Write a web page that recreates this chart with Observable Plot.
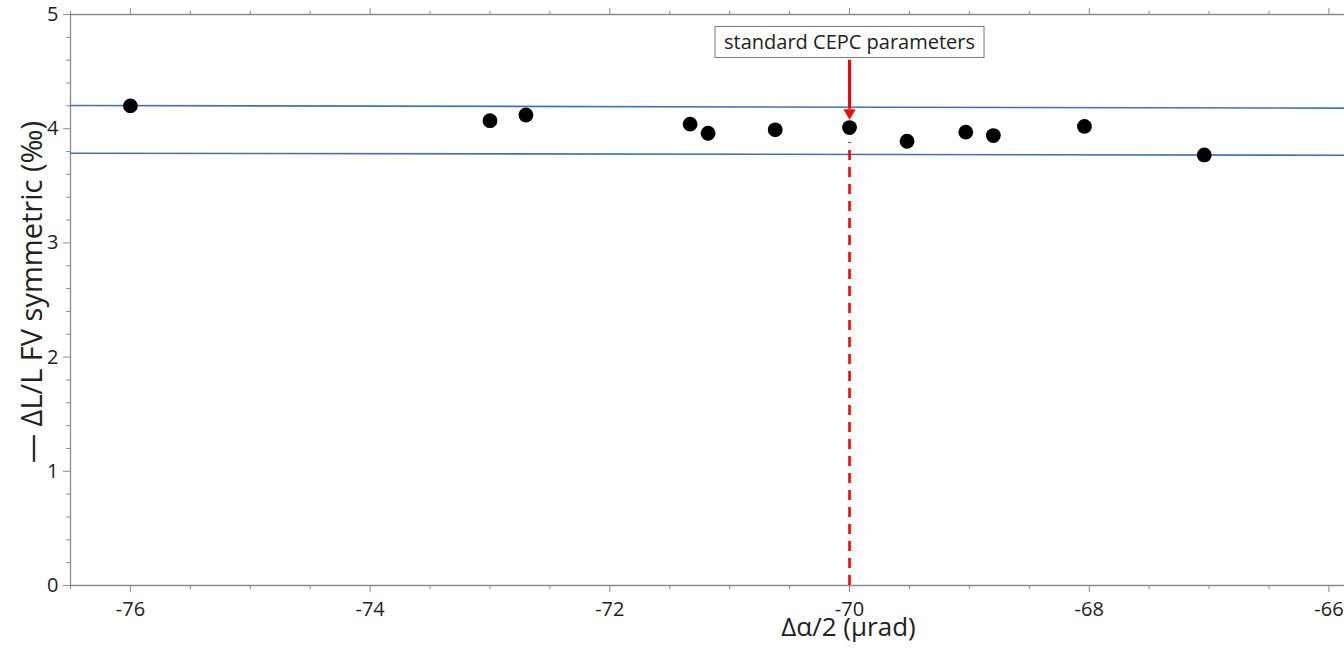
<!DOCTYPE html>
<html><head><meta charset="utf-8">
<script src="https://cdn.jsdelivr.net/npm/d3@7"></script>
<script src="https://cdn.jsdelivr.net/npm/@observablehq/plot@0.6"></script>
<style>body{margin:0;background:#fff;overflow:hidden}</style>
</head><body><div id="chart"></div>
<script>
// data
const crossingAngle = [-76.0, -73.0, -72.7, -71.33, -71.18, -70.62, -70.0, -69.52, -69.03, -68.80, -68.04, -67.04];
const lumiShift     = [4.20, 4.07, 4.12, 4.04, 3.96, 3.99, 4.01, 3.89, 3.97, 3.94, 4.02, 3.77];
const bandX     = [-76.5, -65.87];
const bandUpper = [4.203, 4.180];
const bandLower = [3.785, 3.768];
const standardX = [-70];
const standardLabel = ["standard CEPC parameters"];
const labelY = [4.75];
const arrowFrom = [4.60], arrowTo = [4.14];
const dashedTop = [3.88];
const xMajorTicks = [-76, -74, -72, -70, -68, -66];
const xMinorTicks = [-76.5, -75.5, -75, -74.5, -73.5, -73, -72.5, -71.5, -71, -70.5, -69.5, -69, -68.5, -67.5, -67, -66.5];
const yMajorTicks = [0, 1, 2, 3, 4, 5];
const yMinorTicks = [0.2,0.4,0.6,0.8,1.2,1.4,1.6,1.8,2.2,2.4,2.6,2.8,3.2,3.4,3.6,3.8,4.2,4.4,4.6,4.8];
const xDomain = [-76.5, -65.87];
const yDomain = [0, 5];
const xTitle = "Δα/2 (μrad)";
const yTitle = "— ΔL/L FV symmetric (‰)";

const points = crossingAngle.map((x, i) => ({x, y: lumiShift[i]}));
const band = [
  ...bandX.map((x, i) => ({x, y: bandUpper[i], s: "upper"})),
  ...bandX.map((x, i) => ({x, y: bandLower[i], s: "lower"}))
];
const axisGray = "#8c8c8c";
const blank = () => "";
const plain = d => String(d);

const chart = Plot.plot({
  width: 1344, height: 650,
  marginLeft: 70, marginRight: 0, marginTop: 14, marginBottom: 65,
  style: {fontFamily: "'Open Sans', sans-serif", fontSize: "20px", color: "#222", background: "#fff"},
  x: {domain: xDomain},
  y: {domain: yDomain},
  marks: [
    Plot.ruleY(yDomain, {stroke: axisGray, strokeWidth: 1.3}),
    Plot.ruleX([xDomain[0]], {stroke: axisGray, strokeWidth: 1.3}),
    Plot.axisX({ticks: xMinorTicks, tickSize: 4, stroke: axisGray, tickFormat: blank, label: null}),
    Plot.axisX({ticks: xMajorTicks, tickSize: 7, stroke: axisGray, tickPadding: 9, fontSize: 20, fill: "#222", tickFormat: plain, label: null}),
    Plot.axisX({anchor: "top", ticks: xMinorTicks, tickSize: 4, stroke: axisGray, tickFormat: blank, label: null}),
    Plot.axisX({anchor: "top", ticks: xMajorTicks, tickSize: 7, stroke: axisGray, tickFormat: blank, label: null}),
    Plot.axisY({ticks: yMinorTicks, tickSize: 4, stroke: axisGray, tickFormat: blank, label: null}),
    Plot.axisY({ticks: yMajorTicks, tickSize: 7, stroke: axisGray, tickPadding: 5, fontSize: 20, fill: "#222", tickFormat: plain, label: null}),
    Plot.text([xTitle], {frameAnchor: "bottom", textAnchor: "middle", dx: 141, dy: 50, fontSize: 26, fill: "#222"}),
    Plot.text([yTitle], {frameAnchor: "left", textAnchor: "middle", dx: -38, dy: -8, rotate: -90, fontSize: 29, fill: "#222"}),
    Plot.line(band, {x: "x", y: "y", z: "s", stroke: "#3f73b5", strokeWidth: 1.6}),
    Plot.ruleX(standardX, {x: d => d, y1: 0, y2: dashedTop[0], stroke: "#ff0000", strokeWidth: 2.6, strokeDasharray: "10,7"}),
    Plot.dot(points, {x: "x", y: "y", r: 7.4, fill: "black", stroke: "none"}),
    Plot.ruleX(standardX, {x: d => d, y1: arrowFrom[0], y2: arrowTo[0] + 0.03, stroke: "#ff0000", strokeWidth: 3}),
    Plot.dot(standardX, {x: d => d, y: arrowTo[0], symbol: "triangle", rotate: 180, r: 4.5, fill: "#ff0000", stroke: "none"}),
    Plot.text(standardX, {x: d => d, y: labelY[0], text: () => standardLabel[0], fontSize: 20, fill: "#222"})
  ]
});
document.getElementById("chart").appendChild(chart);

// box around the annotation label
const ann = Array.from(chart.querySelectorAll("text")).find(t => t.textContent === standardLabel[0]);
if (ann) {
  const bb = ann.getBBox();
  const rect = document.createElementNS("http://www.w3.org/2000/svg", "rect");
  const padX = 9, padY = 2;
  rect.setAttribute("x", bb.x - padX);
  rect.setAttribute("y", bb.y - padY);
  rect.setAttribute("width", bb.width + 2 * padX);
  rect.setAttribute("height", bb.height + 2 * padY);
  rect.setAttribute("fill", "white");
  rect.setAttribute("stroke", "#777");
  rect.setAttribute("stroke-width", "1");
  const t = ann.getAttribute("transform");
  if (t) rect.setAttribute("transform", t);
  ann.parentNode.insertBefore(rect, ann);
}
</script>
</body></html>
